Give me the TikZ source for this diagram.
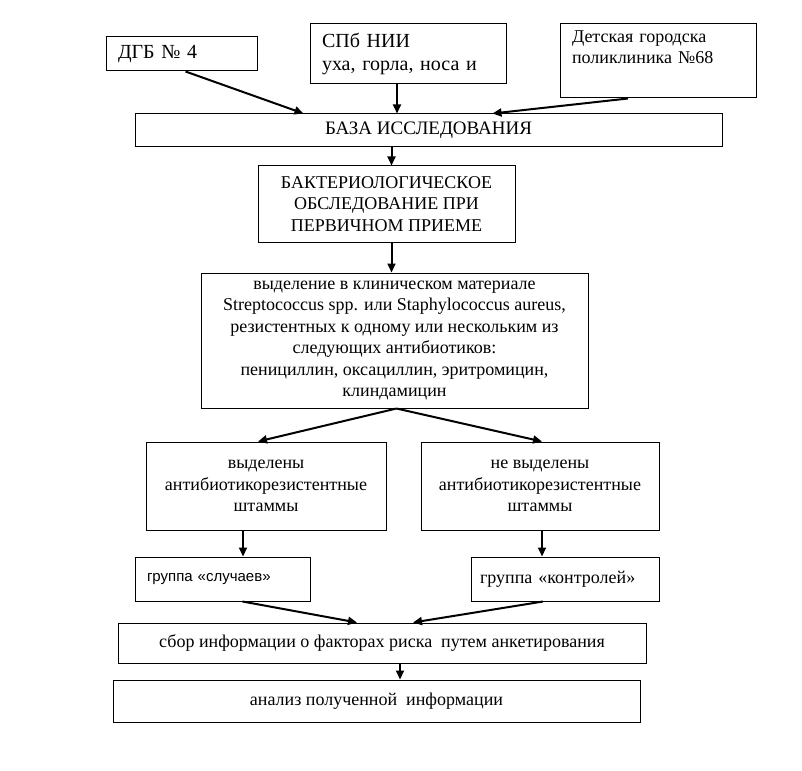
\documentclass[tikz,border=0pt]{standalone}
\usepackage{fontspec}
\setmainfont{Liberation Serif}
\setsansfont{Liberation Sans}
\usetikzlibrary{arrows.meta}

\begin{document}
\begin{tikzpicture}[scale=1,x=1pt,y=-1pt,
  box/.style={draw,line width=1pt,inner sep=0pt,align=center,font=\fontsize{18}{21.5}\selectfont},
  every edge/.style={draw,line width=2pt,-{Triangle[length=9pt,width=8pt]}}]

  \useasboundingbox (0,0) rectangle (802,770);

  \node[box,minimum width=151pt,minimum height=34pt,text width=127pt,align=left,font=\fontsize{20}{23}\selectfont] (0) at (181.5,54) {ДГБ № 4};
  \node[box,minimum width=196pt,minimum height=60pt,text width=172pt,align=left,font=\fontsize{20}{23}\selectfont] (1) at (408,54) {СПб НИИ\\уха, горла, носа и};
  \node[box,minimum width=196pt,minimum height=74pt,text width=172pt,align=left,font=\fontsize{18}{21}\selectfont] (2) at (658,61) {Детская городска\\поликлиника №68\\\strut};
  \node[box,minimum width=587pt,minimum height=33pt,font=\fontsize{19}{22}\selectfont] (3) at (428.5,130.5) {БАЗА ИССЛЕДОВАНИЯ};
  \node[box,minimum width=257pt,minimum height=76pt] (4) at (386.5,204) {БАКТЕРИОЛОГИЧЕСКОЕ\\ОБСЛЕДОВАНИЕ ПРИ\\ПЕРВИЧНОМ ПРИЕМЕ};
  \node[box,minimum width=387pt,minimum height=135pt] (5) at (394.5,340.5) {выделение в клиническом материале\\Streptococcus spp. или Staphylococcus aureus,\\резистентных к одному или нескольким из\\следующих антибиотиков:\\пенициллин, оксациллин, эритромицин,\\клиндамицин};
  \node[box,minimum width=240pt,minimum height=88pt] (6) at (266,486) {выделены\\антибиотикорезистентные\\штаммы};
  \node[box,minimum width=238pt,minimum height=88pt] (7) at (540,486) {не выделены\\антибиотикорезистентные\\штаммы};
  \node[box,minimum width=175pt,minimum height=44pt,text width=151pt,align=left,font=\sffamily\fontsize{15}{18}\selectfont] (8) at (222.5,579) {группа «случаев»};
  \node[box,minimum width=188pt,minimum height=44pt,text width=170pt,align=left] (9) at (565,579) {группа «контролей»};
  \node[box,minimum width=528pt,minimum height=40pt] (10) at (382,643) {сбор информации о факторах риска\ \ путем анкетирования};
  \node[box,minimum width=527pt,minimum height=42pt] (11) at (376.5,701) {анализ полученной\ \ информации};

  \path
   ([xshift=4pt]0.south) edge ([xshift=-125pt]3.north)
   ([xshift=-11pt]1.south) edge ([xshift=-11pt]1.south |- 3.north)
   ([xshift=-30pt]2.south) edge ([xshift=64pt]3.north)
   ([xshift=5pt]4.north |- 3.south) edge ([xshift=5pt]4.north)
   ([xshift=5pt]4.south) edge ([xshift=5pt]4.south |- 5.north)
   ([xshift=2pt]5.south) edge ([xshift=-8pt]6.north)
   ([xshift=2pt]5.south) edge ([xshift=2pt]7.north)
   ([xshift=-23pt]6.south) edge ([xshift=-23pt]6.south |- 8.north)
   ([xshift=2pt]7.south) edge ([xshift=2pt]7.south |- 9.north)
   ([xshift=20pt]8.south) edge ([xshift=-25pt]10.north)
   ([xshift=-22pt]9.south) edge ([xshift=31pt]10.north)
   ([xshift=18pt]10.south) edge ([xshift=18pt]10.south |- 11.north);
\end{tikzpicture}
\end{document}
